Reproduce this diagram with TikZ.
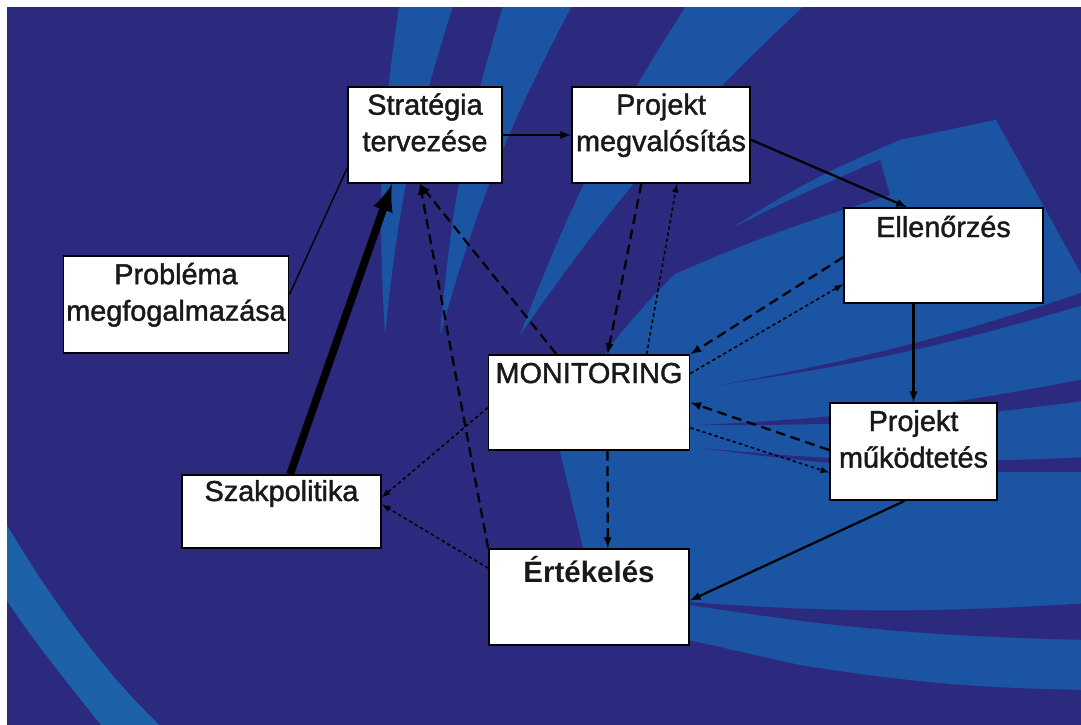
\documentclass[tikz,border=0pt]{standalone}
\usepackage{fontspec}
\setmainfont{Liberation Sans}
\newfontfamily\boxfont{Liberation Sans}[FakeBold=1.4]
\usetikzlibrary{positioning,arrows,calc}

\definecolor{bgnavy}{RGB}{44,42,126}
\definecolor{bandblue}{RGB}{27,84,162}
\definecolor{swooshblue}{RGB}{29,98,168}

\newcommand{\boxpad}{\rule[-18pt]{0pt}{0pt}}

\tikzset{
  box/.style={draw=black, fill=white, line width=1.2pt, inner xsep=2pt, inner ysep=1pt,
    align=center, text=black!90, font=\boxfont\fontsize{20.5}{26}\selectfont},
  topbox/.style={box, inner ysep=0pt},
  solidarrow/.style={-latex, line width=1.6pt},
  thickarrow/.style={-latex, line width=5.5pt},
  dasharrow/.style={-latex, line width=1.6pt, dash pattern=on 7pt off 4pt},
  dotarrow/.style={-latex, line width=1.1pt, dash pattern=on 2.5pt off 2pt},
}

\begin{document}
\begin{tikzpicture}[x=0.025cm, y=-0.025cm]

  % background
  \fill[white] (0,0) rectangle (1081,725);
  \fill[bgnavy] (7,7) rectangle (1081,725);
  \begin{scope}
    \clip (7,7) rectangle (1081,725);
    % big light sweep on the right
    \fill[bandblue] (555,430) to[bend left=8] (700,250) to[bend left=6] (900,140)
      -- (1090,100) -- (1090,690) to[bend left=4] (800,665) -- (600,620) -- cycle;
    % light streaks at the top
    \foreach \t/\l/\r in {385/400/455, 440/505/575, 520/690/810}
      \fill[bandblue] (\t,335) to[bend left=6] (\l,0) -- (\r,0) to[bend right=6] (\t,335) -- cycle;
    % dark stripes across the sweep
    \foreach \tx/\ty/\ya/\yb in {660/600/603/640, 700/448/457/472, 700/425/378/400, 720/385/290/303}
      \fill[bgnavy] (\tx,\ty) to[bend right=4] (1090,\ya) -- (1090,\yb) to[bend left=4] (\tx,\ty) -- cycle;
    \fill[bgnavy] (560,330) to[bend left=5] (880,160) -- (890,195) to[bend right=5] (560,330) -- cycle;
    \fill[bgnavy] (930,0) -- (1090,290) -- (1090,0) -- cycle;
    \fill[swooshblue] (0,513) .. controls (50,600) and (110,680) .. (165,730)
      -- (105,730) .. controls (65,680) and (25,630) .. (0,590) -- cycle;
  \end{scope}

  % boxes
  \node[box, minimum width=3.85cm, minimum height=2.4cm] (strat) at (425,135) {Stratégia\\tervezése\boxpad};
  \node[box, minimum width=4.45cm, minimum height=2.4cm] (megv) at (661,135) {Projekt\\megvalósítás\boxpad};
  \node[topbox, minimum width=4.975cm, text height=0.725cm, text depth=1.65cm] (ellen) at (943.5,255.5) {Ellenőrzés};
  \node[box, minimum width=5.6cm, minimum height=2.425cm] (probl) at (176,304.5) {Probléma\\megfogalmazása\boxpad};
  \node[topbox, minimum width=5.025cm, text height=0.7cm, text depth=1.675cm] (monit) at (589,402.5) {MONITORING};
  \node[box, minimum width=4.175cm, minimum height=2.425cm] (mukod) at (913.5,451.5) {Projekt\\működtetés\boxpad};
  \node[topbox, minimum width=4.975cm, text height=0.65cm, text depth=1.175cm] (szak) at (281.5,511.5) {Szakpolitika};
  \node[topbox, minimum width=5cm, text height=0.825cm, text depth=1.575cm,
    font=\bfseries\fontsize{21}{26}\selectfont] (ertek) at (589,597) {Értékelés};

  % main flow
  \draw[solidarrow] (strat.east) -- (megv.west);
  \draw[solidarrow] (megv.357) -- (ellen.127);
  \draw[solidarrow] (mukod.north |- ellen.south) -- (mukod.north);
  \draw[solidarrow] (mukod.260) -- (ertek.358);
  \draw[line width=1pt] (probl.5) -- (strat.203);
  \draw[thickarrow] (szak.77) -- (strat.236);

  % feedback
  \draw[dasharrow] (monit.124) -- (strat.264);
  \draw[dasharrow] (ertek.north west) -- (strat.264);
  \draw[dasharrow] (megv.248) -- (monit.69);
  \draw[dotarrow] (monit.40) -- (megv.288);
  \draw[dasharrow] (ellen.181) -- (monit.north east);
  \draw[dotarrow] (monit.16) -- (ellen.196);
  \draw[dasharrow] (mukod.179) -- (monit.east);
  \draw[dotarrow] (monit.346) -- (mukod.194);
  \draw[dasharrow] (monit.291) -- (ertek.69);
  \draw[dotarrow] (monit.183) -- (szak.8);
  \draw[dotarrow] (ertek.164) -- (szak.4);

\end{tikzpicture}
\end{document}
